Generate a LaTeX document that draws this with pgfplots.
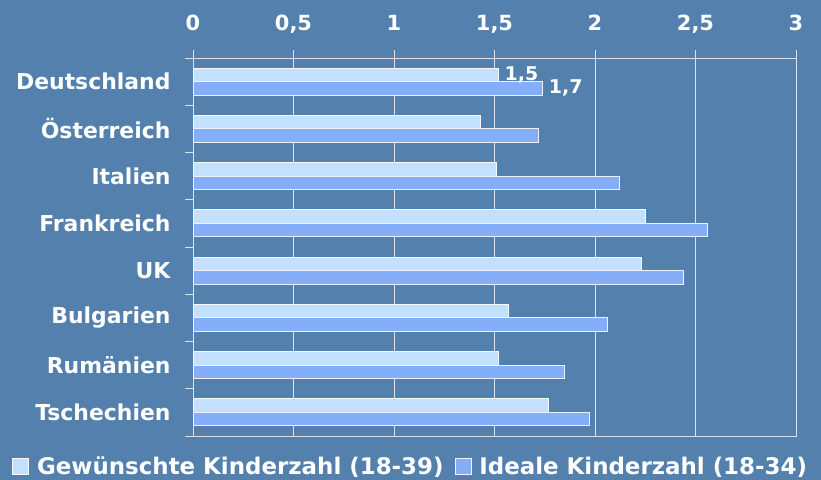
\documentclass[border=0pt]{standalone}
\usepackage{pgfplots}
\pgfplotsset{compat=1.18}
\usepackage{fontspec}
\setmainfont{DejaVu Sans}
\definecolor{bg}{RGB}{84,128,174}
\definecolor{lightbar}{RGB}{196,224,255}
\definecolor{darkbar}{RGB}{132,174,248}
\definecolor{gridc}{RGB}{215,226,238}
\begin{document}
\begin{tikzpicture}[x=1bp,y=1bp]
\fill[bg] (0,0) rectangle (821,480);
\begin{axis}[
  at={(193bp,44bp)}, anchor=south west,
  scale only axis, width=603bp, height=378bp,
  xbar, bar width=13.5bp,
  xmin=0, xmax=3, ymin=-0.5, ymax=7.5, y dir=reverse,
  xtick={0,0.5,1,1.5,2,2.5,3},
  xtick pos=upper, xticklabel pos=upper,
  ytick={-0.5,0.5,1.5,2.5,3.5,4.5,5.5,6.5,7.5},
  yticklabels={Deutschland,Österreich,Italien,Frankreich,UK,Bulgarien,Rumänien,Tschechien},
  y tick label as interval,
  ytick pos=left,
  tick align=outside, major tick length=8bp,
  xmajorgrids, grid style={gridc, line width=0.8bp},
  axis line style={gridc, line width=1bp},
  tick style={gridc, line width=0.8bp},
  /pgf/number format/use comma,
  /pgf/number format/assume math mode=true,
  xticklabel style={font=\fontsize{21}{24}\selectfont\bfseries, text=white, text depth=0pt, yshift=16bp},
  yticklabel style={font=\fontsize{22}{25}\selectfont\bfseries, text=white, xshift=-11bp},
  legend style={at={(-0.305,-0.08)}, anchor=west, draw=none, fill=none,
    text=white, font=\fontsize{23}{26}\selectfont\bfseries,
    /tikz/every even column/.append style={column sep=9bp},
    /tikz/every odd column/.append style={column sep=6bp}},
  legend columns=2,
  legend image code/.code={\draw[#1, line width=0.8bp] (0bp,-8bp) rectangle (16bp,8bp);},
]
\addplot[fill=lightbar, draw=white!85!lightbar, line width=0.8bp, bar shift=6.75bp]
  coordinates {(1.52,0) (1.43,1) (1.51,2) (2.25,3) (2.23,4) (1.57,5) (1.52,6) (1.77,7)};
\addplot[fill=darkbar, draw=white!85!darkbar, line width=0.8bp, bar shift=-6.75bp]
  coordinates {(1.74,0) (1.72,1) (2.12,2) (2.56,3) (2.44,4) (2.06,5) (1.85,6) (1.97,7)};
\legend{Gewünschte Kinderzahl (18-39), Ideale Kinderzahl (18-34)}
\addplot[draw=none, fill=none, bar shift=6.75bp, forget plot,
  nodes near coords, point meta=x,
  nodes near coords style={font=\fontsize{19}{22}\selectfont\bfseries, text=white, anchor=west, inner sep=3bp, xshift=3bp,
    /pgf/number format/.cd, fixed, precision=1, use comma, assume math mode=true}]
  coordinates {(1.52,0)};
\addplot[draw=none, fill=none, bar shift=-6.75bp, forget plot,
  nodes near coords, point meta=x,
  nodes near coords style={font=\fontsize{19}{22}\selectfont\bfseries, text=white, anchor=west, inner sep=3bp, xshift=3bp,
    /pgf/number format/.cd, fixed, precision=1, use comma, assume math mode=true}]
  coordinates {(1.74,0)};
\end{axis}
\end{tikzpicture}
\end{document}
